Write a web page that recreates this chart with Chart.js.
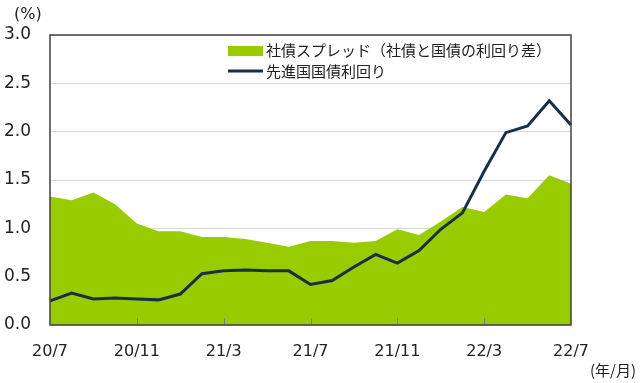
<!DOCTYPE html>
<html>
<head>
<meta charset="utf-8">
<script src="https://cdn.jsdelivr.net/npm/chart.js@4"></script>
<style>
  html, body { margin: 0; padding: 0; background: #fff; }
  #wrap { width: 640px; height: 383px; }
</style>
</head>
<body>
<div id="wrap"><canvas id="chart" width="640" height="383"></canvas></div>
<script>
/* ---------- data ---------- */
const months = [
  "20/7", "20/8", "20/9", "20/10", "20/11", "20/12",
  "21/1", "21/2", "21/3", "21/4", "21/5", "21/6",
  "21/7", "21/8", "21/9", "21/10", "21/11", "21/12",
  "22/1", "22/2", "22/3", "22/4", "22/5", "22/6", "22/7"
];
const shownMonths = ["20/7", "20/11", "21/3", "21/7", "21/11", "22/3", "22/7"];

const spread = [
  1.33, 1.29, 1.37, 1.25, 1.05, 0.97, 0.97, 0.91, 0.91, 0.89, 0.85, 0.81,
  0.87, 0.87, 0.85, 0.87, 0.99, 0.93, 1.07, 1.22, 1.17, 1.35, 1.31, 1.55, 1.46
];
const govYield = [
  0.25, 0.33, 0.27, 0.28, 0.27, 0.26, 0.32, 0.53, 0.56, 0.57, 0.56, 0.56,
  0.42, 0.46, 0.60, 0.73, 0.64, 0.77, 0.99, 1.16, 1.59, 1.99, 2.06, 2.32, 2.07
];
const yTicks = [0, 0.5, 1.0, 1.5, 2.0, 2.5, 3.0];

const GREEN = "#99cc00";
const NAVY = "#1b2e48";
const TEXT = "#222222";
const NUM_FONT = "'DejaVu Sans', sans-serif";
const JP_FONT = "'Noto Sans CJK JP', sans-serif";

/* ---------- extras: frame, inner ticks, legend, units ---------- */
const extras = {
  id: "extras",
  afterDatasetsDraw(chart) {
    const { ctx, chartArea: a, scales } = chart;
    ctx.save();

    // small ticks up from the bottom axis
    ctx.strokeStyle = "#7f7f7f";
    ctx.lineWidth = 1;
    months.forEach((m, i) => {
      if (!shownMonths.includes(m) || i === 0 || i === months.length - 1) return;
      const x = Math.round(scales.x.getPixelForValue(i)) + 0.5;
      ctx.beginPath();
      ctx.moveTo(x, a.bottom);
      ctx.lineTo(x, a.bottom - 7);
      ctx.stroke();
    });

    // plot frame
    ctx.strokeStyle = "#404040";
    ctx.lineWidth = 1.5;
    ctx.strokeRect(a.left, a.top, a.right - a.left, a.bottom - a.top);

    // legend
    const lx = 228;
    ctx.fillStyle = GREEN;
    ctx.fillRect(lx, 46, 35, 10);
    ctx.strokeStyle = NAVY;
    ctx.lineWidth = 3;
    ctx.beginPath();
    ctx.moveTo(lx, 71);
    ctx.lineTo(lx + 35, 71);
    ctx.stroke();

    ctx.fillStyle = TEXT;
    ctx.font = "15px " + JP_FONT;
    ctx.textBaseline = "middle";
    ctx.textAlign = "left";
    ctx.fillText(chart.data.datasets[1].label, lx + 38, 50);
    ctx.fillText(chart.data.datasets[0].label, lx + 38, 71);

    // units
    ctx.font = "16px " + NUM_FONT;
    ctx.fillText("(%)", 14, 15);
    ctx.font = "15px " + JP_FONT;
    ctx.textAlign = "right";
    ctx.fillText("(年/月)", 636, 370);

    ctx.restore();
  }
};

/* ---------- chart ---------- */
new Chart(document.getElementById("chart"), {
  type: "line",
  data: {
    labels: months,
    datasets: [
      {
        label: "先進国国債利回り",
        data: govYield,
        borderColor: NAVY,
        borderWidth: 3,
        pointRadius: 0,
        tension: 0,
        fill: false,
        order: 0
      },
      {
        label: "社債スプレッド（社債と国債の利回り差）",
        data: spread,
        borderWidth: 0,
        borderColor: GREEN,
        backgroundColor: GREEN,
        pointRadius: 0,
        tension: 0,
        fill: "origin",
        order: 1
      }
    ]
  },
  options: {
    responsive: false,
    animation: false,
    layout: { padding: { top: 35, right: 69, left: 0, bottom: 0 } },
    plugins: {
      legend: { display: false },
      tooltip: { enabled: false }
    },
    scales: {
      x: {
        offset: false,
        grid: { display: false, drawTicks: false },
        border: { display: false },
        afterFit(scale) { scale.height = 58; },
        ticks: {
          autoSkip: false,
          maxRotation: 0,
          padding: 17,
          color: TEXT,
          font: { family: NUM_FONT, size: 16 },
          callback(value, index) {
            const m = months[index];
            return shownMonths.includes(m) ? m : "";
          }
        }
      },
      y: {
        min: 0,
        max: 3,
        afterFit(scale) { scale.width = 50; },
        afterBuildTicks(scale) {
          scale.ticks = yTicks.map(v => ({ value: v }));
        },
        grid: { color: "#d9d9d9", lineWidth: 1, drawTicks: false },
        border: { display: false },
        ticks: {
          padding: 19,
          color: TEXT,
          font: { family: NUM_FONT, size: 17 },
          callback: v => v.toFixed(1)
        }
      }
    }
  },
  plugins: [extras]
});
</script>
</body>
</html>
